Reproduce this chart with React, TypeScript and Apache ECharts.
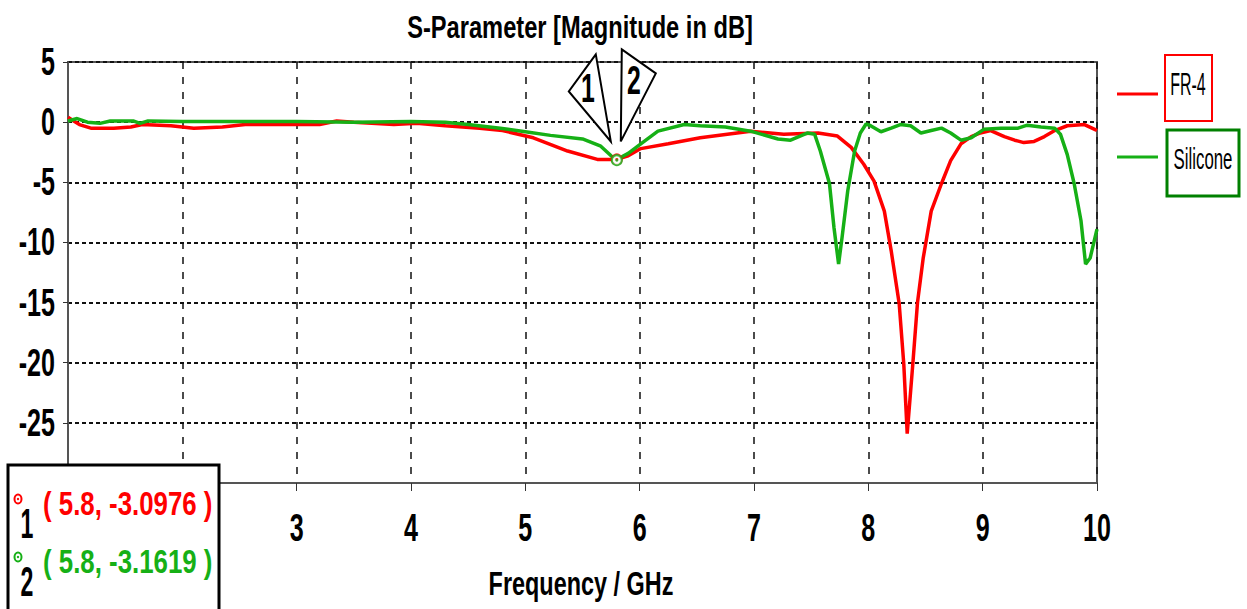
import React, { useEffect, useRef } from "react";
import * as echarts from "echarts";

const FONT = '"Liberation Sans", Arial, sans-serif';

const titleText = "S-Parameter [Magnitude in dB]";
const xAxisName = "Frequency / GHz";
const seriesNames = ["FR-4", "Silicone"];
const seriesColors = ["#ff0000", "#16b016"];

const xTickValues = [1, 2, 3, 4, 5, 6, 7, 8, 9, 10];
const yTickValues = [5, 0, -5, -10, -15, -20, -25, -30];

const freqFR4 = [
  1.0, 1.05, 1.1, 1.2, 1.4, 1.55, 1.65, 1.9, 2.1, 2.35, 2.55, 2.9, 3.2, 3.35, 3.5, 3.85, 4.05, 4.3, 4.6, 4.8,
  5.07, 5.37, 5.63, 5.75, 5.8, 5.9, 6.01, 6.25, 6.53, 6.97, 7.26, 7.56, 7.73, 7.85, 7.96, 8.05, 8.14, 8.2, 8.27,
  8.31, 8.34, 8.39, 8.43, 8.48, 8.55, 8.64, 8.72, 8.81, 8.9, 8.98, 9.07, 9.19, 9.28, 9.36, 9.45, 9.54, 9.63,
  9.74, 9.89, 9.98, 10.0,
];
const magFR4 = [
  0.4, 0.1, -0.2, -0.5, -0.5, -0.4, -0.2, -0.3, -0.5, -0.4, -0.2, -0.2, -0.2, 0.1, 0.0, -0.2, -0.1, -0.3, -0.5, -0.7,
  -1.3, -2.4, -3.1, -3.1, -3.0976, -2.8, -2.2, -1.8, -1.3, -0.75, -1.0, -0.9, -1.16, -2.1, -3.5, -4.9, -7.4, -10.7,
  -15.1, -20.1, -25.9, -20.0, -15.0, -11.3, -7.4, -5.1, -3.2, -1.8, -1.2, -0.9, -0.7, -1.2, -1.5, -1.7, -1.6, -1.2,
  -0.7, -0.3, -0.2, -0.6, -0.7,
];

const freqSil = [
  1.0, 1.08, 1.17, 1.28, 1.37, 1.57, 1.63, 1.7, 2.0, 2.5, 3.0, 3.5, 4.0, 4.3, 4.5, 4.78, 5.0, 5.22, 5.5, 5.66,
  5.75, 5.8, 5.86, 5.9, 6.01, 6.16, 6.39, 6.53, 6.75, 6.97, 7.21, 7.32, 7.47, 7.53, 7.58, 7.66, 7.7, 7.74, 7.77,
  7.82, 7.88, 7.93, 7.98, 8.02, 8.11, 8.2, 8.28, 8.37, 8.46, 8.55, 8.64, 8.72, 8.81, 8.9, 9.01, 9.16, 9.31, 9.39,
  9.51, 9.63, 9.68, 9.74, 9.8, 9.86, 9.9, 9.94, 10.0,
];
const magSil = [
  0.1, 0.3, 0.0, -0.1, 0.1, 0.1, -0.1, 0.1, 0.05, 0.05, 0.05, 0.0, 0.05, 0.0, -0.2, -0.5, -0.8, -1.1, -1.4, -2.0,
  -2.8, -3.1619, -2.8, -2.6, -1.8, -0.75, -0.2, -0.3, -0.4, -0.75, -1.4, -1.5, -0.9, -1.0, -2.4, -5.1, -8.8, -11.8,
  -9.6, -5.7, -2.4, -0.9, -0.15, -0.3, -0.8, -0.5, -0.2, -0.3, -0.9, -0.7, -0.5, -0.9, -1.5, -1.3, -0.6, -0.5, -0.5,
  -0.25, -0.4, -0.5, -1.0, -2.7, -5.1, -8.2, -11.8, -11.3, -8.9,
];

const markerIds = ["1", "2"];
const markerFreq = [5.8, 5.8];
const markerMag = [-3.0976, -3.1619];

// marker read-out box (top-left corner, size)
const BOX = { x: 8, y: 465, w: 211, h: 150 };

function txt(
  x: number,
  y: number,
  text: string,
  o: { size: number; sx: number; bold?: boolean; color?: string; align?: string; z?: number }
) {
  return {
    type: "text",
    x,
    y,
    scaleX: o.sx,
    z: o.z ?? 61,
    style: {
      text,
      fontFamily: FONT,
      fontWeight: o.bold === false ? "normal" : "bold",
      fontSize: o.size,
      fill: o.color ?? "#000",
      textAlign: o.align ?? "center",
      textVerticalAlign: "middle",
    },
  };
}

export default function App() {
  const ref = useRef<HTMLDivElement>(null);

  useEffect(() => {
    if (!ref.current) return;
    const chart = echarts.init(ref.current, undefined, { renderer: "svg" });

    const lineData = (fs: number[], ms: number[]) => fs.map((f, i) => [f, ms[i]]);

    chart.setOption({
      animation: false,
      backgroundColor: "#ffffff",
      grid: {
        left: 68,
        right: 150,
        top: 62,
        bottom: 126,
        show: true,
        borderColor: "#555",
        borderWidth: 2,
        backgroundColor: "transparent",
      },
      xAxis: {
        type: "value",
        min: 1,
        max: 10,
        interval: 1,
        axisLine: { show: true, onZero: false, lineStyle: { color: "#555", width: 2 } },
        axisTick: { show: true, length: 8, lineStyle: { color: "#333", width: 1 } },
        axisLabel: { show: false },
        splitLine: { show: true, lineStyle: { color: "#111", type: [7, 8], width: 1.5 } },
      },
      yAxis: {
        type: "value",
        min: -30,
        max: 5,
        interval: 5,
        axisLine: { show: true, onZero: false, lineStyle: { color: "#555", width: 2 } },
        axisTick: { show: true, length: 5, lineStyle: { color: "#333", width: 1 } },
        axisLabel: { show: false },
        splitLine: { show: true, lineStyle: { color: "#111", type: [4, 3], width: 2 } },
      },
      series: [
        {
          name: seriesNames[0],
          type: "line",
          data: lineData(freqFR4, magFR4),
          showSymbol: false,
          lineStyle: { color: seriesColors[0], width: 3.5 },
          itemStyle: { color: seriesColors[0] },
          z: 2,
        },
        {
          name: seriesNames[1],
          type: "line",
          data: lineData(freqSil, magSil),
          showSymbol: false,
          lineStyle: { color: seriesColors[1], width: 3.5 },
          itemStyle: { color: seriesColors[1] },
          z: 3,
        },
        {
          type: "scatter",
          data: markerFreq.map((f, i) => ({
            value: [f, markerMag[i]],
            itemStyle: { color: "#ffffff", borderColor: seriesColors[i], borderWidth: 2 },
          })),
          symbol: "circle",
          symbolSize: 10,
          z: 5,
        },
        {
          type: "scatter",
          data: markerFreq.map((f, i) => ({
            value: [f, markerMag[i]],
            itemStyle: { color: seriesColors[i] },
          })),
          symbol: "circle",
          symbolSize: 3,
          z: 6,
        },
      ],
    });

    const toPx = (x: number, y: number) => chart.convertToPixel({ gridIndex: 0 }, [x, y]) as number[];
    const inBox = (x: number, y: number) =>
      x > BOX.x - 10 && x < BOX.x + BOX.w + 10 && y > BOX.y - 10 && y < BOX.y + BOX.h;

    const p = toPx(markerFreq[0], markerMag[0]);
    const mx = p[0];
    const my = p[1];
    const axisBottom = toPx(1, -30)[1];
    const axisLeft = toPx(1, -30)[0];

    const tickTexts: any[] = [];
    xTickValues.forEach((v) => {
      const px = toPx(v, -30)[0];
      const py = axisBottom + 45;
      if (!inBox(px, py)) tickTexts.push(txt(px, py, String(v), { size: 38, sx: 0.66 }));
    });
    yTickValues.forEach((v) => {
      const py = toPx(1, v)[1];
      const px = axisLeft - 13;
      if (!inBox(px - 15, py)) tickTexts.push(txt(px, py, String(v), { size: 38, sx: 0.66, align: "right" }));
    });

    const boxTexts = markerIds.map((id, i) => `( ${markerFreq[i]}, ${markerMag[i]} )`);

    chart.setOption({
      graphic: [
        txt(580, 27, titleText, { size: 32, sx: 0.74, z: 50 }),
        txt(581, 583, xAxisName, { size: 33, sx: 0.71, z: 50 }),
        ...tickTexts,
        // callout 1
        {
          type: "polygon",
          z: 60,
          shape: { points: [[mx - 21, my - 105], [mx - 48, my - 68], [mx - 6, my - 18]] },
          style: { fill: "#ffffff", stroke: "#000", lineWidth: 2 },
        },
        txt(mx - 29, my - 71, markerIds[0], { size: 40, sx: 0.62 }),
        // callout 2
        {
          type: "polygon",
          z: 60,
          shape: { points: [[mx + 5, my - 110], [mx + 39, my - 86], [mx + 4, my - 18]] },
          style: { fill: "#ffffff", stroke: "#000", lineWidth: 2 },
        },
        txt(mx + 17, my - 79, markerIds[1], { size: 40, sx: 0.62 }),
        // legend
        {
          type: "line",
          z: 60,
          shape: { x1: 1117, y1: 94, x2: 1158, y2: 94 },
          style: { stroke: seriesColors[0], lineWidth: 3 },
        },
        {
          type: "rect",
          z: 60,
          shape: { x: 1165, y: 55, width: 47, height: 66 },
          style: { fill: "#ffffff", stroke: "#ff0000", lineWidth: 2 },
        },
        txt(1188, 84, seriesNames[0], { size: 32, sx: 0.5, bold: false }),
        {
          type: "line",
          z: 60,
          shape: { x1: 1117, y1: 157, x2: 1158, y2: 157 },
          style: { stroke: seriesColors[1], lineWidth: 3 },
        },
        {
          type: "rect",
          z: 60,
          shape: { x: 1167, y: 130, width: 72, height: 66 },
          style: { fill: "#ffffff", stroke: "#008000", lineWidth: 3 },
        },
        txt(1203, 159, seriesNames[1], { size: 30, sx: 0.56, bold: false }),
        // marker box
        {
          type: "rect",
          z: 70,
          shape: { x: BOX.x, y: BOX.y, width: BOX.w, height: BOX.h },
          style: { fill: "#ffffff", stroke: "#000", lineWidth: 3 },
        },
        ...markerIds.flatMap((id, i) => {
          const cy = 503 + i * 58;
          return [
            {
              type: "ellipse",
              z: 71,
              shape: { cx: 18, cy: cy - 4, rx: 3.5, ry: 4.5 },
              style: { fill: "#ffffff", stroke: seriesColors[i], lineWidth: 2 },
            },
            {
              type: "circle",
              z: 72,
              shape: { cx: 18, cy: cy - 4, r: 1.2 },
              style: { fill: seriesColors[i] },
            },
            txt(27, cy + 20, id, { size: 42, sx: 0.55, z: 71 }),
            txt(43, cy, boxTexts[i], { size: 34, sx: 0.76, color: seriesColors[i], align: "left", z: 71 }),
          ];
        }),
      ],
    });

    return () => chart.dispose();
  }, []);

  return (
    <div
      ref={ref}
      style={{ position: "fixed", left: 0, top: 0, width: 1247, height: 609, background: "#fff" }}
    />
  );
}
